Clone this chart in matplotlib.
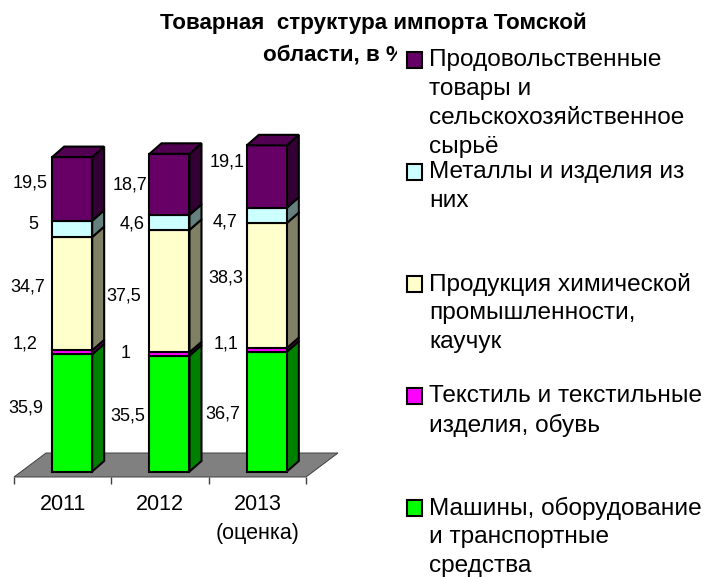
# %%
import matplotlib
matplotlib.use('Agg')
import matplotlib.pyplot as plt
from matplotlib.patches import Polygon, Rectangle

plt.rcParams['font.family'] = ['Liberation Sans', 'DejaVu Sans']

W, H = 706, 577

# %%
years = ['2011', '2012', '2013\n(оценка)']
machines = [35.9, 35.5, 36.7]
textile = [1.2, 1, 1.1]
chemistry = [34.7, 37.5, 38.3]
metals = [5, 4.6, 4.7]
food = [19.5, 18.7, 19.1]
series = [machines, textile, chemistry, metals, food]

legend_labels = [
  'Продовольственные\nтовары и\nсельскохозяйственное\nсырьё',
  'Металлы и изделия из\nних',
  'Продукция химической\nпромышленности,\nкаучук',
  'Текстиль и текстильные\nизделия, обувь',
  'Машины, оборудование\nи транспортные\nсредства',
]

# front, side
colors = [
  ('#00FF00', '#008000'),
  ('#FF00FF', '#800080'),
  ('#FFFFCC', '#808066'),
  ('#CCFFFF', '#668080'),
  ('#660066', '#330033'),
]
top_color = '#520052'

# hand placed in the original, so they don't sit at the segment centres (pixels)
label_pos = [
  [(26, 408), (128, 416), (223, 414)],
  [(25, 344), (126, 353), (226, 344)],
  [(28, 287), (124, 296), (226, 278)],
  [(33, 224), (132, 224), (225, 222)],
  [(30, 183), (130, 185), (227, 162)],
]

# %%
# axes geometry, in pixels of the picture
LEFT, RIGHT, FLOOR_FRONT, AX_TOP = 14, 338, 477, 120
X_UNIT = 97.33   # px per category
Y_UNIT = 3.265   # px per percent
BASE = 471.5     # y px of value 0

DX = 12 / X_UNIT
DY = 10.5 / Y_UNIT
BAR_W = 40 / X_UNIT
BAR_SHIFT = 9.5 / X_UNIT

fig = plt.figure(figsize=(W / 100, H / 100), dpi=100)
ax = fig.add_axes([LEFT / W, 1 - FLOOR_FRONT / H, (RIGHT - LEFT) / W, (FLOOR_FRONT - AX_TOP) / H])
ax.set_xlim(-0.5, -0.5 + (RIGHT - LEFT) / X_UNIT)
ax.set_ylim((BASE - FLOOR_FRONT) / Y_UNIT, (BASE - AX_TOP) / Y_UNIT)
ax.patch.set_visible(False)
for s in ax.spines.values():
  s.set_visible(False)
ax.set_yticks([])

# ticks on the category borders, labels on the centres
ax.set_xticks([-0.5, 0.5, 1.5, 2.5])
ax.set_xticklabels([])
ax.set_xticks(range(len(years)), labels=years, minor=True)
ax.tick_params(axis='x', which='major', length=5, width=1, color='#404040')
ax.tick_params(axis='x', which='minor', length=0, pad=12, labelsize=15.5)
for t in ax.get_xticklabels(minor=True):
  t.set_linespacing(1.54)

# floor
y0, _ = ax.get_ylim()
floor_depth = (477 - 453) / Y_UNIT
floor_dx = (46 - 14) / X_UNIT
x_end = 2.5
ax.add_patch(Polygon([(-0.5, y0), (x_end, y0), (x_end + floor_dx, y0 + floor_depth), (-0.5 + floor_dx, y0 + floor_depth)],
                     facecolor='#808080', edgecolor='#404040', lw=0.7, clip_on=False, zorder=1))


def draw_bar(ax: plt.Axes, x, bottom, value, front, side, z):
  xl, xr = x - BAR_W / 2, x + BAR_W / 2
  top = bottom + value
  style = dict(edgecolor='black', lw=1.5, clip_on=False, zorder=z, joinstyle='miter')
  ax.add_patch(Polygon([(xr, bottom), (xr + DX, bottom + DY), (xr + DX, top + DY), (xr, top)], facecolor=side, **style))
  ax.add_patch(Polygon([(xl, bottom), (xr, bottom), (xr, top), (xl, top)], facecolor=front, **style))


for i in range(len(years)):
  x = i + BAR_SHIFT
  bottom = 0
  for j, values in enumerate(series):
    draw_bar(ax, x, bottom, values[i], colors[j][0], colors[j][1], 2 + j)
    bottom += values[i]
  xl, xr = x - BAR_W / 2, x + BAR_W / 2
  ax.add_patch(Polygon([(xl, bottom), (xr, bottom), (xr + DX, bottom + DY), (xl + DX, bottom + DY)],
                       facecolor=top_color, edgecolor='black', lw=1.5, clip_on=False, zorder=8))


def fx(px):
  return px / W


def fy(py):
  return 1 - py / H


# value labels
for values, positions in zip(series, label_pos):
  for v, (px, py) in zip(values, positions):
    fig.text(fx(px), fy(py), str(v).replace('.', ','), fontsize=13, ha='center', va='center')

# %%
# title, the legend box covers its end
fig.text(fx(373.5), fy(23), 'Товарная  структура импорта Томской', fontsize=16.1, fontweight='bold', ha='center', va='center', zorder=1)
fig.text(fx(263), fy(55), 'области, в %', fontsize=16.1, fontweight='bold', ha='left', va='center', zorder=1)
fig.add_artist(Rectangle((fx(397), 0), 1 - fx(397), fy(42), transform=fig.transFigure, facecolor='white', edgecolor='none', zorder=2))

LEGEND_X, LEGEND_Y, LEGEND_STEP, LINE_H = 429, 60, 112, 29
for k, text in enumerate(legend_labels):
  yc = LEGEND_Y + k * LEGEND_STEP
  fig.add_artist(Rectangle((fx(406.5), fy(yc + 8)), 16 / W, 16 / H, transform=fig.transFigure,
                           facecolor=colors[len(colors) - 1 - k][0], edgecolor='black', lw=1.5, zorder=3))
  for n, line in enumerate(text.split('\n')):
    fig.text(fx(LEGEND_X), fy(yc + n * LINE_H), line, fontsize=17.6, ha='left', va='center', zorder=3)

fig.savefig('out.png', dpi=100)
